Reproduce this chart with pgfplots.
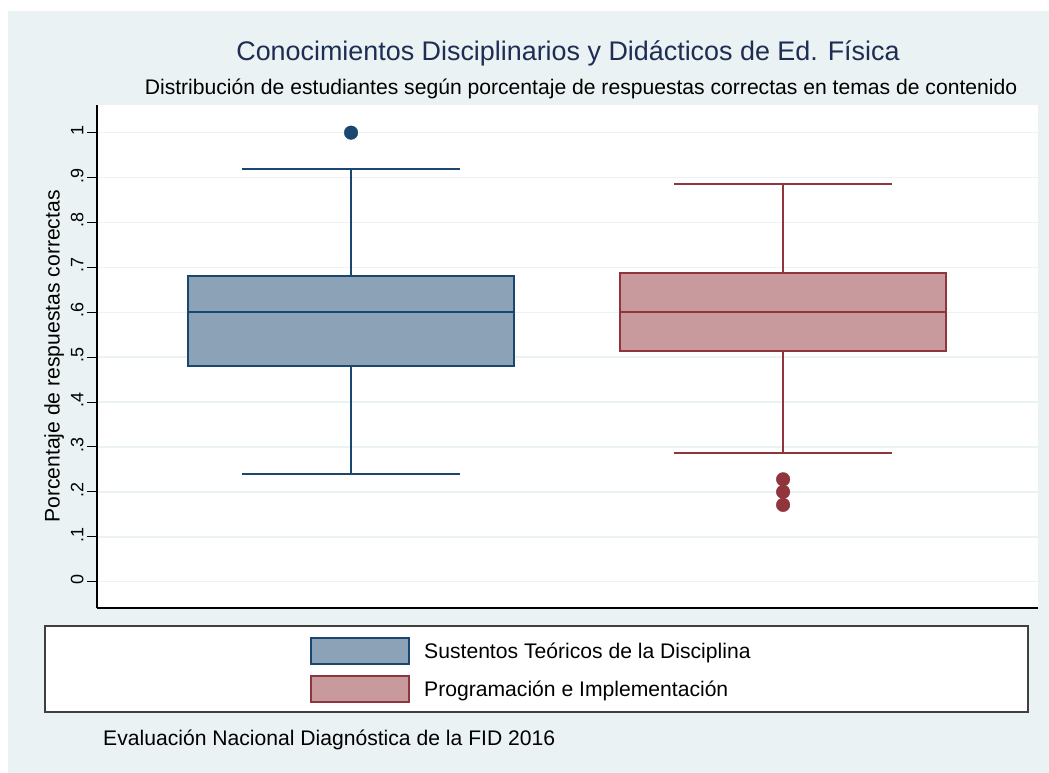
\documentclass[border=0pt]{standalone}
\usepackage{pgfplots}
\pgfplotsset{compat=1.18}
\usepackage{fontspec}
\setmainfont{Liberation Sans}
\definecolor{bg}{RGB}{234,242,243}
\definecolor{navy}{RGB}{26,71,111}
\definecolor{maroon}{RGB}{144,53,59}
\definecolor{navyfill}{RGB}{140,163,183}
\definecolor{maroonfill}{RGB}{200,154,157}
\definecolor{titlec}{RGB}{30,45,83}
\pgfplotsset{bigkey/.style={legend image code/.code={\draw[##1, line width=2bp] (0bp,-13bp) rectangle (98bp,13bp);}}}
\begin{document}
\begin{tikzpicture}
\begin{scope}[x=1bp,y=1bp]
\useasboundingbox (0,0) rectangle (1049,773);
\fill[white] (0,0) rectangle (1049,773);
\fill[bg] (8,0) rectangle (1049,762);
\fill[white] (97,165) rectangle (1038,668);
\draw[black!75, line width=1.2bp, fill=white] (45,61) rectangle (1028,147);
\node[font=\fontsize{27}{30}\selectfont, text=titlec] at (568,720) {Conocimientos Disciplinarios y Didácticos de Ed. Física};
\node[font=\fontsize{21.2}{24}\selectfont] at (581,684) {Distribución de estudiantes según porcentaje de respuestas correctas en temas de contenido};
\node[font=\fontsize{21.2}{24}\selectfont, anchor=west, inner sep=0] at (103,33) {Evaluación Nacional Diagnóstica de la FID 2016};
\end{scope}
\begin{axis}[
  at={(97bp,165bp)}, anchor=south west, scale only axis,
  width=941bp, height=503bp,
  xmin=0.412, xmax=2.590, ymin=-0.0586, ymax=1.0617,
  axis x line*=bottom, axis y line*=left,
  axis line style={black, line width=1.2bp, -},
  xtick=\empty,
  ytick={0,0.1,0.2,0.3,0.4,0.5,0.6,0.7,0.8,0.9,1},
  yticklabels={0,.1,.2,.3,.4,.5,.6,.7,.8,.9,1},
  yticklabel style={rotate=90, font=\fontsize{18}{20}\selectfont, xshift=2bp},
  /pgf/number format/assume math mode=true,
  tick align=outside, major tick length=10bp,
  tick style={black, line width=1bp},
  ymajorgrids, grid style={bg, line width=1.5bp},
  ylabel={Porcentaje de respuestas correctas},
  ylabel style={font=\fontsize{21.2}{24}\selectfont},
  legend style={at={(0.2264,-0.0577)}, anchor=north west, draw=none, fill=none,
    inner sep=0pt, nodes={inner sep=0pt},
    font=\fontsize{21.2}{24}\selectfont, row sep=10bp, column sep=14bp, cells={anchor=west}},
  legend cell align=left,
  clip=false,
]
% Box 1: Sustentos Teoricos (q1=0.48, med=0.60, q3=0.681, whiskers 0.24 / 0.92)
\addplot[draw=navy, fill=navyfill, line width=1.8bp, line join=miter, area legend, bigkey]
  coordinates {(0.6227,0.48) (1.3773,0.48) (1.3773,0.681) (0.6227,0.681)} -- cycle;
\addlegendentry{Sustentos Teóricos de la Disciplina}
% Box 2: Programacion (q1=0.513, med=0.60, q3=0.687, whiskers 0.286 / 0.886)
\addplot[draw=maroon, fill=maroonfill, line width=1.8bp, line join=miter, area legend, bigkey]
  coordinates {(1.6227,0.513) (2.3773,0.513) (2.3773,0.687) (1.6227,0.687)} -- cycle;
\addlegendentry{Programación e Implementación}
\addplot[navy, line width=1.8bp, forget plot] coordinates {(0.6227,0.6) (1.3773,0.6)};
\addplot[navy, line width=1.8bp, forget plot] coordinates {(1,0.681) (1,0.92)};
\addplot[navy, line width=1.8bp, forget plot] coordinates {(1,0.48) (1,0.24)};
\addplot[navy, line width=1.8bp, forget plot] coordinates {(0.7475,0.92) (1.2525,0.92)};
\addplot[navy, line width=1.8bp, forget plot] coordinates {(0.7475,0.24) (1.2525,0.24)};
\addplot[maroon, line width=1.8bp, forget plot] coordinates {(1.6227,0.6) (2.3773,0.6)};
\addplot[maroon, line width=1.8bp, forget plot] coordinates {(2,0.687) (2,0.886)};
\addplot[maroon, line width=1.8bp, forget plot] coordinates {(2,0.513) (2,0.286)};
\addplot[maroon, line width=1.8bp, forget plot] coordinates {(1.7475,0.886) (2.2525,0.886)};
\addplot[maroon, line width=1.8bp, forget plot] coordinates {(1.7475,0.286) (2.2525,0.286)};
\addplot[only marks, mark=*, mark size=6.8bp, navy, forget plot] coordinates {(1,1.0)};
\addplot[only marks, mark=*, mark size=6.8bp, maroon, forget plot] coordinates {(2,0.228) (2,0.2) (2,0.171)};
\end{axis}
\end{tikzpicture}
\end{document}
